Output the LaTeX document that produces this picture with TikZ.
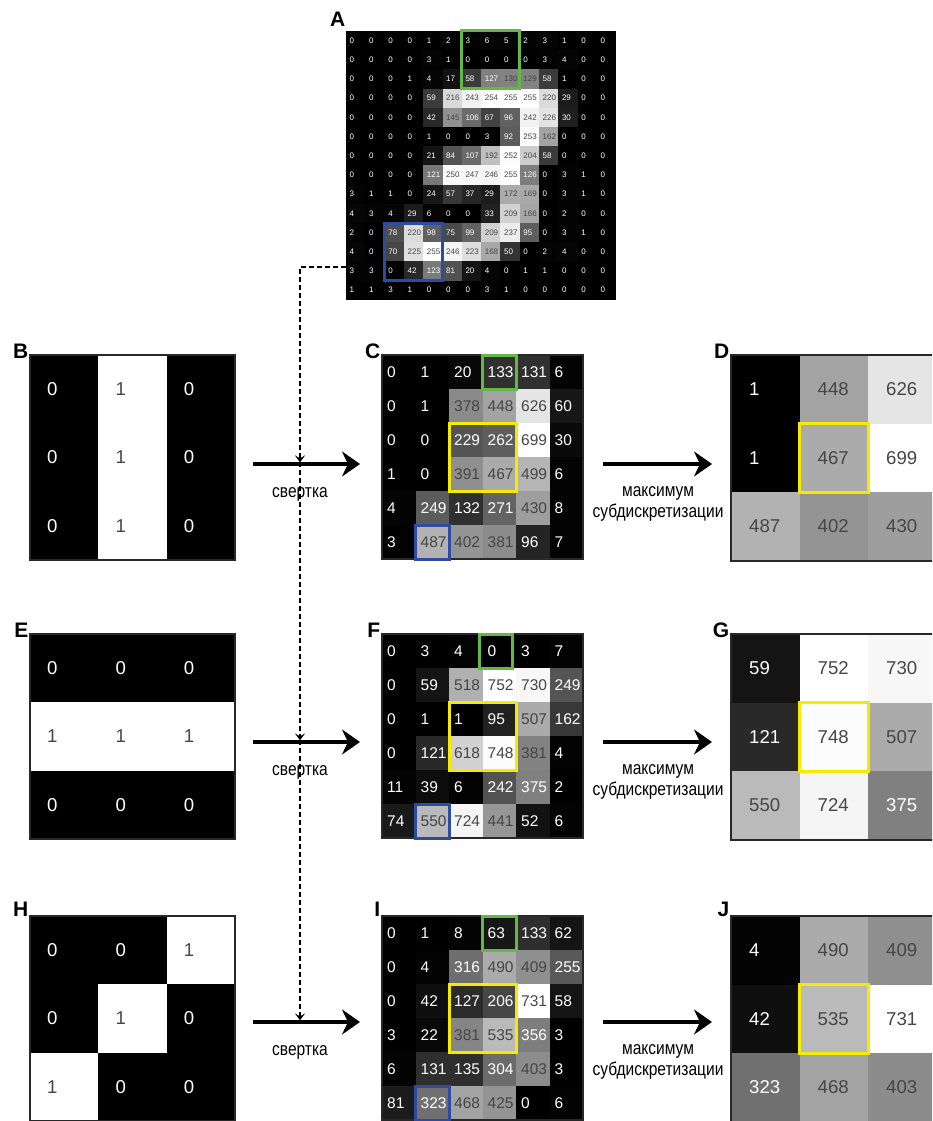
\documentclass[tikz,border=0pt]{standalone}
\usepackage{fontspec}
\setmainfont{Liberation Sans}
\setsansfont{Liberation Sans}
\newfontfamily\narrowfont[FakeStretch=0.84]{Liberation Sans}
\usetikzlibrary{arrows.meta}
\definecolor{boxgreen}{RGB}{100,185,70}
\definecolor{boxblue}{RGB}{45,75,160}
\definecolor{boxyellow}{RGB}{245,235,0}
\definecolor{txtdark}{RGB}{70,70,70}
\definecolor{framegray}{RGB}{40,40,40}
% #1 name, #2 x0, #3 y0, #4 cw, #5 ch, #6 max, #7 fontsize, #8 pad, #9 data
\newcommand\drawmat[9]{%
  \foreach \rowdata [count=\r from 0] in {#9} {
    \foreach \v [count=\c from 0] in \rowdata {
      \pgfmathtruncatemacro\p{round(\v/#6*100)}
      \ifnum\p<51 \def\tc{white}\else\def\tc{txtdark}\fi
      \fill[white!\p!black] (#2+\c*#4, #3+\r*#5) rectangle ++(#4,#5);
      \node[anchor=west, text=\tc, font=\fontsize{#7}{#7}\selectfont, inner sep=0pt] (#1-\r-\c) at (#2+\c*#4+#8, #3+\r*#5+#5/2) {\v};
    }
  }%
}
\tikzset{
  frame/.style={draw=framegray, line width=2pt},
  greenbox/.style={draw=boxgreen, line width=3pt},
  bluebox/.style={draw=boxblue, line width=3pt},
  yellowbox/.style={draw=boxyellow, line width=3pt},
  panel/.style={font=\bfseries\fontsize{21}{21}\selectfont, anchor=base east, inner sep=0pt},
  bigarrow/.style={line width=3.2pt, -{Stealth[length=18pt,width=25pt,inset=6pt]}},
  dashline/.style={line width=1.3pt, dash pattern=on 5pt off 3pt},
  dashtip/.style={dashline, -{Stealth[length=7pt,width=10pt,inset=3pt]}},
  oplabel/.style={font=\narrowfont\fontsize{18.5}{21}\selectfont, align=center, inner sep=0pt},
}
\begin{document}
\begin{tikzpicture}[x=1pt,y=-1pt]
\useasboundingbox (0,0) rectangle (932,1121);
\clip (0,0) rectangle (932,1121);

% ---------- A ----------
\drawmat{A}{346}{31}{19.3}{19.2}{255}{8}{3.5}{%
{0,0,0,0,1,2,3,6,5,2,3,1,0,0},
{0,0,0,0,3,1,0,0,0,0,3,4,0,0},
{0,0,0,1,4,17,58,127,130,129,58,1,0,0},
{0,0,0,0,59,216,243,254,255,255,220,29,0,0},
{0,0,0,0,42,145,106,67,96,242,226,30,0,0},
{0,0,0,0,1,0,0,3,92,253,162,0,0,0},
{0,0,0,0,21,84,107,192,252,204,58,0,0,0},
{0,0,0,0,121,250,247,246,255,126,0,3,1,0},
{3,1,1,0,24,57,37,29,172,169,0,3,1,0},
{4,3,4,29,6,0,0,33,209,166,0,2,0,0},
{2,0,78,220,98,75,99,209,237,95,0,3,1,0},
{4,0,70,225,255,246,223,168,50,0,2,4,0,0},
{3,3,0,42,123,81,20,4,0,1,1,0,0,0},
{1,1,3,1,0,0,0,3,1,0,0,0,0,0}}
\draw[greenbox] (461.8,31) rectangle (519.7,88.6);
\draw[bluebox] (384.6,223) rectangle (442.5,280.6);
\node[panel] (labA) at (345.5,27) {A};

% ---------- row 1 ----------
\drawmat{B}{30}{355}{68.3}{68.3}{1}{18.6}{17}{{0,1,0},{0,1,0},{0,1,0}}
\draw[frame] (30,355) rectangle ++(205,205);
\drawmat{C}{382}{355}{33.5}{34}{699}{15.5}{5}{%
{0,1,20,133,131,6},
{0,1,378,448,626,60},
{0,0,229,262,699,30},
{1,0,391,467,499,6},
{4,249,132,271,430,8},
{3,487,402,381,96,7}}
\draw[frame] (382,355) rectangle ++(201,204);
\draw[greenbox] (482.5,355) rectangle ++(33.5,34);
\draw[yellowbox] (449,423) rectangle ++(67,68);
\draw[bluebox] (415.5,525) rectangle ++(33.5,34);
\drawmat{D}{731}{355}{68.5}{68.5}{699}{18.6}{18}{{1,448,626},{1,467,699},{487,402,430}}
\draw[frame] (731,355) rectangle ++(205.5,205.5);
\draw[yellowbox] (799.5,423.5) rectangle ++(68.5,68.5);
\node[panel] (labB) at (28.5,358) {B};
\node[panel] (labC) at (380.5,358) {C};
\node[panel] (labD) at (729.5,358) {D};

% ---------- row 2 ----------
\drawmat{E}{30}{634}{68.3}{68.3}{1}{18.6}{17}{{0,0,0},{1,1,1},{0,0,0}}
\draw[frame] (30,634) rectangle ++(205,205);
\drawmat{F}{382}{634}{33.5}{34}{752}{15.5}{5}{%
{0,3,4,0,3,7},
{0,59,518,752,730,249},
{0,1,1,95,507,162},
{0,121,618,748,381,4},
{11,39,6,242,375,2},
{74,550,724,441,52,6}}
\draw[frame] (382,634) rectangle ++(201,204);
\draw[greenbox] (479,634) rectangle ++(33.5,34);
\draw[yellowbox] (449,702) rectangle ++(67,68);
\draw[bluebox] (415.5,804) rectangle ++(33.5,34);
\drawmat{G}{731}{634}{68.5}{68.5}{752}{18.6}{18}{{59,752,730},{121,748,507},{550,724,375}}
\draw[frame] (731,634) rectangle ++(205.5,205.5);
\draw[yellowbox] (799.5,702.5) rectangle ++(68.5,68.5);
\node[panel] (labE) at (28.5,637) {E};
\node[panel] (labF) at (380.5,637) {F};
\node[panel] (labG) at (729.5,637) {G};

% ---------- row 3 ----------
\drawmat{H}{30}{916}{68.3}{68.3}{1}{18.6}{17}{{0,0,1},{0,1,0},{1,0,0}}
\draw[frame] (30,916) rectangle ++(205,205);
\drawmat{I}{382}{916}{33.5}{34}{731}{15.5}{5}{%
{0,1,8,63,133,62},
{0,4,316,490,409,255},
{0,42,127,206,731,58},
{3,22,381,535,356,3},
{6,131,135,304,403,3},
{81,323,468,425,0,6}}
\draw[frame] (382,916) rectangle ++(201,204);
\draw[greenbox] (482.5,916) rectangle ++(33.5,34);
\draw[yellowbox] (449,984) rectangle ++(67,68);
\draw[bluebox] (415.5,1086) rectangle ++(33.5,34);
\drawmat{J}{731}{916}{68.5}{68.5}{731}{18.6}{18}{{4,490,409},{42,535,731},{323,468,403}}
\draw[frame] (731,916) rectangle ++(205.5,205.5);
\draw[yellowbox] (799.5,984.5) rectangle ++(68.5,68.5);
\node[panel] (labH) at (28.5,916) {H};
\node[panel] (labI) at (380.5,916) {I};
\node[panel] (labJ) at (729.5,916) {J};

% ---------- arrows and labels ----------
\foreach \k/\yy in {1/464, 2/742, 3/1022} {
  \coordinate (cvs\k) at (253,\yy);
  \coordinate (cve\k) at (360,\yy);
  \coordinate (mps\k) at (603,\yy);
  \coordinate (mpe\k) at (712,\yy);
  \coordinate (tip\k) at (300,\yy-1.6);
  \draw[bigarrow] (cvs\k) -- (cve\k);
  \draw[bigarrow] (mps\k) -- (mpe\k);
  \node[oplabel] (cvl\k) at (300,\yy+30) {свертка};
  \node[oplabel] (mpl\k) at (658,\yy+40) {максимум\\субдискретизации};
}
\coordinate (dstart) at (346,267);
\coordinate (dcorner) at (300,267);
\draw[dashtip] (dstart) -- (dcorner) -- (tip1);
\draw[dashtip] (tip1) -- (tip2);
\draw[dashtip] (tip2) -- (tip3);
\end{tikzpicture}
\end{document}
